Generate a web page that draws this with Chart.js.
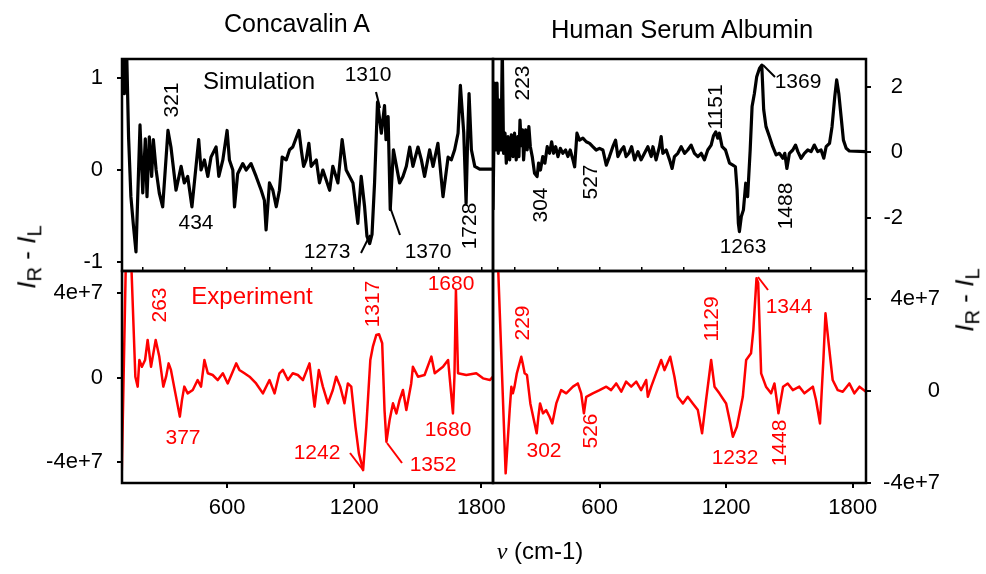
<!DOCTYPE html>
<html>
<head>
<meta charset="utf-8">
<title>ROA spectra</title>
<script src="https://cdn.jsdelivr.net/npm/chart.js@4.4.1/dist/chart.umd.min.js"></script>
<style>
  body { margin: 0; background: #fff; }
  #fig { position: relative; width: 986px; height: 574px; overflow: hidden; font-family: 'Liberation Sans', Arial, sans-serif; color: #000; }
  #fig canvas { position: absolute; left: 0; top: 0; }
  .lbl { position: absolute; transform: translate(-50%, -50%); white-space: nowrap; line-height: 1; }
  .rot { transform: translate(-50%, -50%) rotate(-90deg); }
  .lbl sub { font-size: 78%; vertical-align: -0.3em; }
  .nu { font-family: 'Liberation Serif', serif; font-style: italic; }
</style>
</head>
<body>
<div id="fig">
  <canvas id="conSim" width="986" height="574"></canvas>
  <canvas id="hsaSim" width="986" height="574"></canvas>
  <canvas id="conExp" width="986" height="574"></canvas>
  <canvas id="hsaExp" width="986" height="574"></canvas>
  <div class="lbl" style="left:297px;top:23px;font-size:25px">Concavalin A</div>
  <div class="lbl" style="left:682px;top:30px;font-size:25.5px">Human Serum Albumin</div>
  <div class="lbl" style="left:540px;top:551px;font-size:24px"><span class="nu">ν</span> (cm-1)</div>
  <div class="lbl rot" style="left:29px;top:257px;font-size:26px"><i>I</i><sub>R</sub> - <i>I</i><sub>L</sub></div>
  <div class="lbl rot" style="left:967px;top:300px;font-size:26px"><i>I</i><sub>R</sub> - <i>I</i><sub>L</sub></div>
</div>
<script>
// Concanavalin A, simulated ROA
const conSimNu = [104, 115, 123, 135, 146, 157, 170, 189, 202, 214, 222, 233, 244, 252, 265, 280, 296, 321, 335, 359,
  383, 398, 414, 434, 466, 477, 493, 509, 524, 548, 561, 580, 600, 611, 627, 635, 650, 674, 690, 713,
  737, 761, 776, 784, 800, 816, 832, 847, 860, 879, 895, 910, 939, 950, 961, 973, 986, 997, 1021, 1036,
  1052, 1084, 1099, 1123, 1143, 1162, 1194, 1217, 1233, 1249, 1260, 1273, 1284, 1296, 1310, 1328, 1343, 1350, 1360, 1370,
  1385, 1414, 1430, 1446, 1462, 1477, 1501, 1517, 1532, 1556, 1572, 1595, 1619, 1643, 1658, 1674, 1690, 1701, 1717, 1728,
  1736, 1742, 1753, 1769, 1792, 1855];
const conSimVal = [1.6, 0.83, 1.6, 0.36, -0.29, -0.58, -0.89, 0.49, -0.25, 0.34, -0.29, 0.36, -0.07, 0.33, 0, -0.25, -0.40, 0.43, 0.25, -0.22,
  0.04, -0.14, -0.07, -0.40, 0.33, 0, 0.11, -0.07, 0.14, 0.25, -0.07, 0.11, 0.43, 0.11, 0, -0.40, -0.04, 0.07, 0, 0.07,
  -0.07, -0.22, -0.33, -0.65, -0.14, -0.22, -0.40, -0.22, 0.14, 0.11, 0.22, 0.25, 0.43, 0.22, 0.04, 0.11, 0.29, 0.04, 0.11, -0.14,
  0, -0.22, 0.04, -0.14, 0.33, 0, -0.14, -0.58, -0.07, -0.40, -0.72, -0.80, -0.70, -0.14, 0.74, 0.40, 0.70, 0.33, 0.58, -0.43,
  0.22, -0.14, -0.07, 0.04, 0.25, 0.04, 0.25, 0.11, -0.07, 0.22, 0.04, 0.29, -0.29, 0.14, 0.11, 0.22, 0.40, 0.92, 0.40, -0.36,
  0.40, 0.83, 0.22, 0.04, 0.01, 0.01];

// Human serum albumin, simulated ROA
const hsaSimNu = [95, 103, 107, 114, 120, 126, 133, 139, 145, 152, 158, 166, 174, 182, 190, 197, 205, 213, 218, 223,
  229, 235, 240, 250, 257, 265, 272, 281, 292, 304, 311, 320, 331, 341, 352, 363, 373, 382, 392, 403,
  414, 426, 439, 450, 461, 474, 482, 493, 505, 521, 537, 553, 568, 584, 600, 616, 632, 647, 663, 676,
  687, 703, 715, 726, 739, 752, 766, 782, 797, 813, 829, 845, 853, 868, 884, 892, 900, 916, 932, 944,
  955, 971, 987, 1003, 1018, 1034, 1050, 1066, 1082, 1097, 1113, 1129, 1140, 1151, 1160, 1168, 1181, 1197, 1216, 1232,
  1244, 1252, 1258, 1263, 1272, 1282, 1293, 1302, 1314, 1323, 1334, 1345, 1358, 1369, 1378, 1389, 1405, 1421, 1437, 1453,
  1469, 1478, 1488, 1500, 1516, 1529, 1540, 1555, 1571, 1587, 1603, 1618, 1634, 1650, 1663, 1674, 1690, 1702, 1715, 1724,
  1734, 1745, 1756, 1769, 1784, 1863];
const hsaSimVal = [-1.75, 2.1, 0.07, 2.1, -0.03, 1.59, 0.07, 3.2, -0.03, 0.58, -0.33, 0.48, -0.23, 0.53, -0.13, 0.58, -0.23, 0.48, -0.13, 0.98,
  0.2, 0.68, -0.23, 0.68, 0.07, 0.78, 0.17, -0.13, -0.64, -0.74, -0.33, -0.54, -0.13, -0.33, 0.17, -0.03, 0.32, -0.03, 0.17, -0.13,
  0.12, -0.03, 0.07, -0.13, 0.07, -0.23, -0.44, 0.58, 0.37, 0.43, 0.32, 0.27, 0.17, 0.07, 0.12, 0.07, -0.39, -0.13, 0.17, 0.37,
  -0.13, 0.07, 0.17, -0.13, -0.03, 0.17, -0.23, 0.02, -0.23, -0.03, 0.17, -0.13, 0.17, -0.23, 0.17, 0.48, -0.03, 0.07, -0.23, -0.49,
  -0.13, -0.03, 0.17, -0.03, 0.07, 0.22, -0.03, -0.13, -0.03, -0.23, 0.07, 0.22, 0.5, 0.62, 0.43, 0.58, 0.17, 0.07, -0.33, -0.39,
  -0.44, -1.14, -2.16, -2.41, -1.95, -1.75, -0.94, -1.35, 0.07, 1.39, 1.79, 2.30, 2.55, 2.65, 1.30, 0.78, 0.48, 0.17, -0.08, -0.03,
  -0.18, -0.03, -0.49, -0.03, 0.07, 0.22, 0.02, -0.18, -0.03, 0.07, 0.02, 0.22, 0.02, 0.07, -0.18, 0.17, 0.27, 0.78, 1.69, 2.20,
  1.79, 1.08, 0.37, 0.12, 0.04, 0.02];

// Concanavalin A, measured ROA (units of 1e7)
const conExpNu = [101, 123, 146, 167, 178, 186, 198, 213, 225, 241, 263, 280, 299, 312, 324, 335, 356, 377, 387, 398,
  414, 438, 461, 477, 493, 509, 532, 556, 580, 603, 627, 643, 658, 682, 706, 737, 769, 800, 824, 847,
  863, 887, 910, 934, 958, 989, 1013, 1033, 1052, 1076, 1099, 1115, 1134, 1154, 1170, 1186, 1206, 1222, 1242, 1257,
  1276, 1288, 1304, 1317, 1332, 1343, 1352, 1367, 1383, 1399, 1414, 1430, 1446, 1469, 1477, 1501, 1532, 1564, 1580, 1619,
  1643, 1666, 1673, 1680, 1690, 1729, 1776, 1808, 1840, 1855];
const conExpVal = [-5.5, 5.9, 5.9, 0.04, -0.43, 0.83, 0.51, 0.83, 1.78, 0.51, 1.78, 0.99, -0.43, 0.04, 0.67, 0.36, -0.75, -1.85, -1.07, -0.43,
  -0.75, -0.59, -0.12, -0.43, 0.83, 0.20, 0.12, -0.12, 0.20, -0.28, 0.28, 0.67, 0.36, 0.20, 0.04, -0.28, -0.75, -0.12, -0.75, 0.20,
  0.36, -0.12, 0.20, 0.12, -0.12, 0.67, -1.38, 0.36, -0.43, -1.22, -0.59, 0.04, -0.43, -1.22, -0.28, -0.43, -2.33, -3.59, -4.38, -2.33,
  0.83, 1.46, 2.01, 2.05, 1.62, -1.54, -3.04, -2.01, -1.22, -1.70, -1.07, -0.59, -1.54, -0.28, 0.51, 0.04, 0.12, 0.99, 0.20, 0.51,
  0.83, -1.70, 0.04, 4.14, 0.20, 0.12, 0.20, -0.04, -0.12, 0.04];

// Human serum albumin, measured ROA (units of 1e7)
const hsaExpNu = [118, 155, 174, 182, 189, 197, 208, 229, 236, 245, 256, 272, 302, 310, 318, 332, 347, 363, 376, 395,
  418, 442, 474, 497, 513, 526, 537, 568, 600, 632, 655, 679, 703, 726, 750, 774, 797, 821, 829, 845,
  868, 892, 908, 935, 955, 971, 995, 1018, 1042, 1066, 1086, 1105, 1129, 1145, 1168, 1200, 1220, 1232, 1251, 1279,
  1295, 1318, 1329, 1344, 1352, 1366, 1389, 1413, 1429, 1440, 1448, 1470, 1492, 1516, 1547, 1571, 1611, 1626, 1645, 1661,
  1671, 1686, 1705, 1729, 1753, 1784, 1808, 1832, 1863];
const hsaExpVal = [5.7, -3.58, -0.83, 0.19, -0.10, 0.19, 0.77, 1.49, 1.20, 0.77, 0.70, -0.54, -1.84, -1.12, -0.54, -0.97, -0.83, -1.12, -1.41, -0.54,
  0.04, -0.10, 0.19, 0.33, -0.10, -0.97, -0.25, -0.10, 0.04, 0.19, 0.04, 0.33, -0.03, 0.41, 0.19, 0.41, 0.04, 0.48, -0.25, 0.19,
  0.77, 1.35, 0.91, 1.49, 0.62, -0.25, -0.54, -0.25, -0.54, -0.83, -1.84, -0.39, 1.35, 0.19, -0.10, -0.54, -1.41, -1.99, -1.55, -0.25,
  1.35, 1.64, 2.65, 4.90, 4.70, 0.77, 0.19, -0.10, 0.33, -0.39, -0.97, 0.19, 0.33, 0.04, 0.19, -0.10, 0.19, -0.39, -1.41, 1.35,
  3.38, 2.07, 0.48, 0.04, -0.03, 0.33, -0.10, 0.19, -0.03];

// tick values
const nuTicks = [600, 1200, 1800];
const nuMinorTicks = [200, 400, 600, 800, 1000, 1200, 1400, 1600, 1800];
const conSimTicks = [-1, 0, 1];
const hsaSimTicks = [-2, 0, 2];
const expTicks = [-4e7, 0, 4e7];

const W = 986, H = 574;
const FONT = "'Liberation Sans', Arial, sans-serif";
const RED = '#ff0000';
Chart.defaults.font.family = FONT;
Chart.defaults.color = '#000';

const fmtExp = v => v === 0 ? '0' : (v / 1e7) + 'e+7';

function setTicks(list) {
  return s => { s.ticks = list.map(v => ({ value: v })); };
}
function fixSize(size) {
  return s => {
    if (!s.options.display) return;
    if (s.isHorizontal()) s.height = size; else s.width = size;
  };
}

// frame, peak labels and leader lines
function notesPlugin(notes, leaders, color) {
  return {
    id: 'notes',
    afterDraw(chart) {
      const ctx = chart.ctx, a = chart.chartArea;
      ctx.save();
      ctx.strokeStyle = '#000';
      ctx.lineWidth = 2.5;
      ctx.strokeRect(a.left, a.top, a.right - a.left, a.bottom - a.top);
      ctx.strokeStyle = color;
      ctx.fillStyle = color;
      ctx.lineWidth = 2;
      leaders.forEach(([x1, y1, x2, y2]) => {
        ctx.beginPath(); ctx.moveTo(x1, y1); ctx.lineTo(x2, y2); ctx.stroke();
      });
      ctx.textAlign = 'center';
      ctx.textBaseline = 'middle';
      notes.forEach(n => {
        ctx.font = (n.size || 21) + 'px ' + FONT;
        ctx.save();
        ctx.translate(n.x, n.y);
        if (n.rot) ctx.rotate(-Math.PI / 2);
        ctx.fillText(n.t, 0, 0);
        ctx.restore();
      });
      ctx.restore();
    }
  };
}

function panel(id, p) {
  const [L, T, R, B] = p.area;
  const yW = p.yW, xH = 36, topH = 4;
  const yLeft = p.yPos === 'left';
  const scales = {
    x: {
      type: 'linear', min: p.xMin, max: p.xMax, position: 'bottom', display: p.xAxis,
      afterFit: fixSize(xH), afterBuildTicks: setTicks(nuTicks),
      border: { display: false },
      grid: { drawOnChartArea: false, tickLength: 5, color: '#000', lineWidth: 2 },
      ticks: { font: { size: 22 }, padding: 7, maxRotation: 0, callback: v => String(v) }
    },
    y: {
      type: 'linear', min: p.yMin, max: p.yMax, position: p.yPos,
      afterFit: fixSize(yW), afterBuildTicks: setTicks(p.yTicks),
      border: { display: false },
      grid: { drawOnChartArea: false, tickLength: 5, color: '#000', lineWidth: 2 },
      ticks: { font: { size: 22 }, padding: 14, crossAlign: yLeft ? 'near' : 'far', callback: p.fmt }
    }
  };
  if (p.xAxis) {
    scales.xTop = {
      type: 'linear', min: p.xMin, max: p.xMax, position: 'top',
      afterFit: fixSize(topH), afterBuildTicks: setTicks(nuMinorTicks),
      border: { display: false },
      grid: { drawOnChartArea: false, tickLength: 4, color: '#000', lineWidth: 1.5 },
      ticks: { display: false }
    };
  }
  return new Chart(document.getElementById(id), {
    type: 'line',
    data: {
      datasets: [{
        data: p.nu.map((x, i) => ({ x, y: p.val[i] * p.unit })),
        borderColor: p.color,
        borderWidth: p.width,
        borderJoinStyle: 'round',
        pointRadius: 0,
        tension: 0,
        fill: false
      }]
    },
    options: {
      responsive: false,
      animation: false,
      devicePixelRatio: 1,
      events: [],
      layout: {
        padding: {
          left: yLeft ? L - yW : L,
          right: yLeft ? W - R : W - R - yW,
          top: p.xAxis ? T - topH : T,
          bottom: p.xAxis ? H - B - xH : H - B
        }
      },
      plugins: { legend: { display: false }, tooltip: { enabled: false } },
      scales
    },
    plugins: [notesPlugin(p.notes, p.leaders, p.color)]
  });
}

panel('conSim', {
  area: [122, 59, 493, 271], yPos: 'left', yW: 90, xAxis: false,
  xMin: 104, xMax: 1855, yMin: -1.098, yMax: 1.207, yTicks: conSimTicks, fmt: v => String(v),
  nu: conSimNu, val: conSimVal, unit: 1, color: '#000', width: 3.2,
  notes: [
    { t: 'Simulation', x: 259, y: 82, size: 24 },
    { t: '321', x: 172, y: 100, rot: true },
    { t: '434', x: 196, y: 223 },
    { t: '1310', x: 368, y: 75 },
    { t: '1273', x: 327, y: 252 },
    { t: '1370', x: 428, y: 252 },
    { t: '1728', x: 470, y: 226, rot: true }
  ],
  leaders: [[376, 92, 380, 108], [361, 253, 370, 235], [390, 207, 400, 235]]
});

panel('hsaSim', {
  area: [493, 59, 866, 271], yPos: 'right', yW: 37, xAxis: false,
  xMin: 95, xMax: 1863, yMin: -3.608, yMax: 2.836, yTicks: hsaSimTicks, fmt: v => String(v),
  nu: hsaSimNu, val: hsaSimVal, unit: 1, color: '#000', width: 3.2,
  notes: [
    { t: '223', x: 523, y: 83, rot: true },
    { t: '304', x: 541, y: 205, rot: true },
    { t: '527', x: 591, y: 182, rot: true },
    { t: '1151', x: 716, y: 107, rot: true },
    { t: '1263', x: 743, y: 247 },
    { t: '1369', x: 798, y: 82 },
    { t: '1488', x: 786, y: 206, rot: true }
  ],
  leaders: [[763, 65, 775, 77]]
});

panel('conExp', {
  area: [122, 271, 493, 483], yPos: 'left', yW: 90, xAxis: true,
  xMin: 104, xMax: 1855, yMin: -4.99e7, yMax: 5.04e7, yTicks: expTicks, fmt: fmtExp,
  nu: conExpNu, val: conExpVal, unit: 1e7, color: RED, width: 2.5,
  notes: [
    { t: 'Experiment', x: 252, y: 297, size: 24 },
    { t: '263', x: 160, y: 305, rot: true },
    { t: '377', x: 183, y: 438 },
    { t: '1317', x: 373, y: 304, rot: true },
    { t: '1680', x: 451, y: 284 },
    { t: '1680', x: 448, y: 430 },
    { t: '1242', x: 317, y: 453 },
    { t: '1352', x: 433, y: 465 }
  ],
  leaders: [[350, 453, 363, 470], [387, 443, 402, 463]]
});

panel('hsaExp', {
  area: [493, 271, 866, 483], yPos: 'right', yW: 74, xAxis: true,
  xMin: 95, xMax: 1863, yMin: -4e7, yMax: 5.22e7, yTicks: expTicks, fmt: fmtExp,
  nu: hsaExpNu, val: hsaExpVal, unit: 1e7, color: RED, width: 2.5,
  notes: [
    { t: '229', x: 523, y: 323, rot: true },
    { t: '302', x: 544, y: 451 },
    { t: '526', x: 591, y: 431, rot: true },
    { t: '1129', x: 712, y: 319, rot: true },
    { t: '1232', x: 735, y: 458 },
    { t: '1344', x: 789, y: 307 },
    { t: '1448', x: 780, y: 443, rot: true }
  ],
  leaders: [[758, 277, 768, 290]]
});
</script>
</body>
</html>
